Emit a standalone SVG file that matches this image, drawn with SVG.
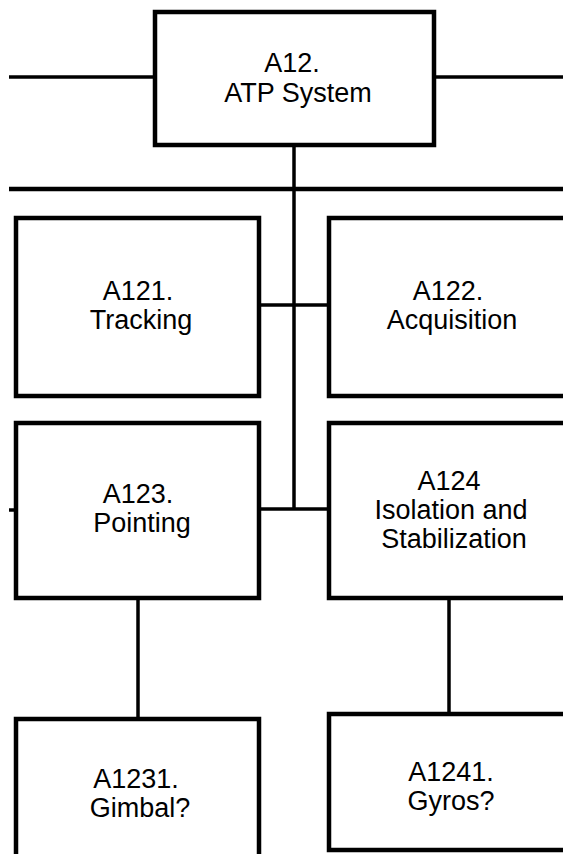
<svg xmlns="http://www.w3.org/2000/svg" width="563" height="854" viewBox="0 0 563 854">
<style>
.box{fill:#fff;stroke:#000;stroke-width:4.5}
.ln{stroke:#000;stroke-width:3.5;fill:none}
.t{font-family:"Liberation Sans",Arial,sans-serif;font-size:27px;fill:#000;text-anchor:middle}
</style>
<rect width="563" height="854" fill="#fff"/>
<g id="connectors">
<line class="ln" x1="9" y1="77" x2="155" y2="77"/>
<line class="ln" x1="434" y1="77" x2="563" y2="77"/>
<line class="ln" x1="294" y1="145" x2="294" y2="509"/>
<line class="ln" x1="9" y1="189" x2="563" y2="189" style="stroke-width:4.5"/>
<line class="ln" x1="259" y1="305" x2="329" y2="305"/>
<line class="ln" x1="259" y1="509" x2="329" y2="509"/>
<line class="ln" x1="9" y1="510" x2="16" y2="510"/>
<line class="ln" x1="138" y1="598" x2="138" y2="719"/>
<line class="ln" x1="449" y1="598" x2="449" y2="714"/>
</g>
<g id="A12">
<rect class="box" x="155" y="12" width="279" height="133"/>
<text class="t" x="292" y="72">A12.</text>
<text class="t" x="298" y="102">ATP System</text>
</g>
<g id="A121">
<rect class="box" x="16" y="218" width="243" height="178"/>
<text class="t" x="138" y="300">A121.</text>
<text class="t" x="141" y="329">Tracking</text>
</g>
<g id="A122">
<rect class="box" x="329" y="218" width="250" height="178"/>
<text class="t" x="448" y="300">A122.</text>
<text class="t" x="452" y="329">Acquisition</text>
</g>
<g id="A123">
<rect class="box" x="16" y="423" width="243" height="175"/>
<text class="t" x="138" y="503">A123.</text>
<text class="t" x="142" y="532">Pointing</text>
</g>
<g id="A124">
<rect class="box" x="329" y="423" width="250" height="175"/>
<text class="t" x="449" y="490">A124</text>
<text class="t" x="451" y="519">Isolation and</text>
<text class="t" x="454" y="548">Stabilization</text>
</g>
<g id="A1231">
<rect class="box" x="16" y="719" width="243" height="150"/>
<text class="t" x="136" y="788">A1231.</text>
<text class="t" x="140" y="817">Gimbal?</text>
</g>
<g id="A1241">
<rect class="box" x="329" y="714" width="250" height="136"/>
<text class="t" x="451" y="781">A1241.</text>
<text class="t" x="451" y="810">Gyros?</text>
</g>
</svg>
